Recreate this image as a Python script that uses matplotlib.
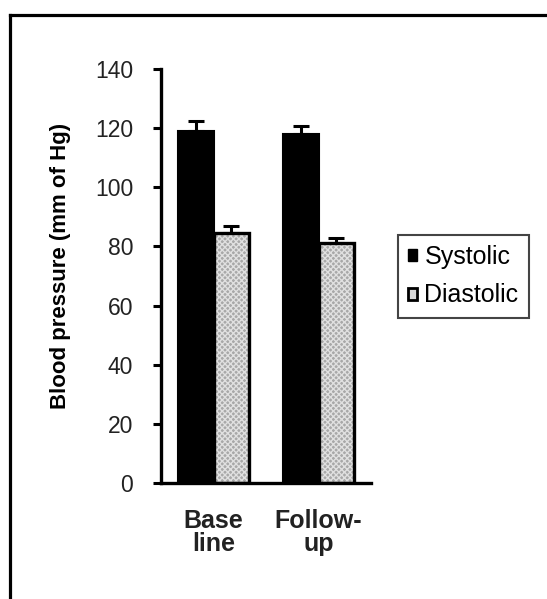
import matplotlib
matplotlib.use("Agg")
import matplotlib.pyplot as plt
import numpy as np
from matplotlib.patches import Patch
from matplotlib.lines import Line2D

categories = ["Base\nline", "Follow-\nup"]
series_names = ["Systolic", "Diastolic"]
systolic = [119.0, 118.0]
systolic_err = [3.4, 2.6]
diastolic = [84.5, 81.0]
diastolic_err = [2.4, 1.8]
yticks = [0, 20, 40, 60, 80, 100, 120, 140]

plt.rcParams['font.family'] = ['Liberation Sans', 'DejaVu Sans']

W, H = 547, 599
fig = plt.figure(figsize=(W / 100, H / 100), dpi=100)
ax = fig.add_axes([161 / W, 1 - 483 / H, (371 - 161) / W, (483 - 69) / H])

x = np.arange(len(categories))
bw = 0.34

# Systolic bars
ax.bar(x - bw / 2, systolic, width=bw, color="black", edgecolor="black",
       linewidth=1.5, zorder=2)
ax.errorbar(x - bw / 2, systolic, yerr=[[0] * len(systolic), systolic_err],
            fmt="none", ecolor="black", elinewidth=2.2, capsize=5.5,
            capthick=2.2, zorder=1)

# Diastolic bars: hatched fill + black outline
plt.rcParams['hatch.linewidth'] = 1.0
ax.bar(x + bw / 2, diastolic, width=bw, color="#a8a8a8", edgecolor="#e0e0e0",
       hatch="xxxxxx", linewidth=0, zorder=2)
ax.bar(x + bw / 2, diastolic, width=bw, fill=False, edgecolor="black",
       linewidth=2.4, zorder=3)
ax.errorbar(x + bw / 2, diastolic, yerr=[[0] * len(diastolic), diastolic_err],
            fmt="none", ecolor="black", elinewidth=2.2, capsize=5.5,
            capthick=2.2, zorder=1)

ax.set_xlim(-0.5, 1.5)
ax.set_ylim(0, 140)
ax.set_yticks(yticks)
ax.set_yticklabels([str(v) for v in yticks], fontsize=16.5, color="#222222")
ax.tick_params(axis="y", direction="out", length=6, width=2.2, pad=14)
ax.set_xticks(x)
ax.set_xticklabels(categories, fontsize=18, fontweight="bold", linespacing=0.95,
                   color="#222222")
ax.tick_params(axis="x", length=0, pad=19)

for s in ["top", "right"]:
    ax.spines[s].set_visible(False)
for s in ["left", "bottom"]:
    ax.spines[s].set_linewidth(2.4)

ax.set_ylabel("Blood pressure (mm of Hg)", fontsize=16, fontweight="bold",
              labelpad=0)
ax.yaxis.set_label_coords((71 - 161) / (371 - 161), (483 - 266) / (483 - 69))

handles = [Patch(facecolor="black", edgecolor="black", linewidth=1.0),
           Patch(facecolor="#d8d8d8", edgecolor="black", linewidth=2.0)]
leg = fig.legend(handles, series_names, loc="upper left",
                 bbox_to_anchor=(398 / W, 1 - 235 / H), borderaxespad=0,
                 fontsize=18, handlelength=0.36, handleheight=0.36,
                 handletextpad=0.3, labelspacing=0.58, borderpad=0.4,
                 fancybox=False, edgecolor="#444444", framealpha=1)
leg.get_frame().set_linewidth(1.5)

# outer frame (left and top)
fig.add_artist(Line2D([10 / W, 10 / W], [0, 1 - 14.5 / H], color="black",
                      linewidth=2.3, transform=fig.transFigure))
fig.add_artist(Line2D([10 / W, 1], [1 - 14.5 / H, 1 - 14.5 / H], color="black",
                      linewidth=2.3, transform=fig.transFigure))

fig.savefig("out.png", dpi=100)
